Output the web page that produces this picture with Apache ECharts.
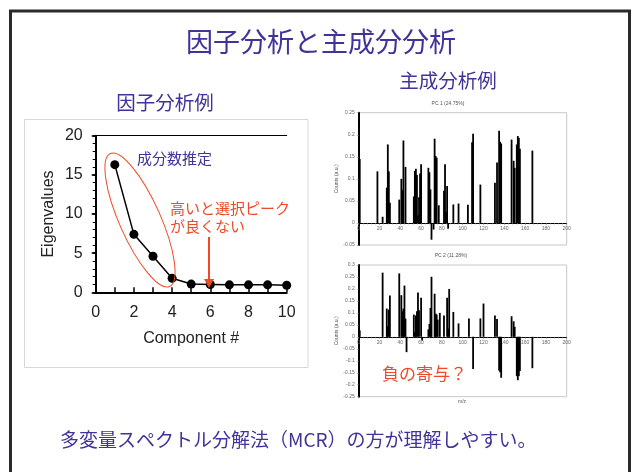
<!DOCTYPE html>
<html><head><meta charset="utf-8">
<script src="https://cdn.jsdelivr.net/npm/echarts@6/dist/echarts.min.js"></script>
<style>html,body{margin:0;padding:0;background:#fff}#c{width:634px;height:472px}</style>
</head><body><div id="c"></div>
<script>
// ---- data ----
const components = [1,2,3,4,5,6,7,8,9,10];
const eigenvalues = [16.3,7.4,4.6,1.8,1.05,1.0,0.95,0.95,0.95,0.9];
const componentTicks = [0,2,4,6,8,10];
const eigenTicks = [0,5,10,15,20];

const pc1Mz  = [1,18,23,27,28,29,30,39,41,42,43,45,53,54,55,56,57,58,59,60,67,68,69,70,72,73,74,75,77,82,83,84,85,86,91,96,105,109,110,117,131,133,135,136,137,147,149,150,152,153,154,155,167];
const pc1Val = [0.145,0.117,0.014,0.080,0.178,0.117,0.046,0.053,0.100,0.075,0.187,0.127,0.060,0.118,0.123,0.109,0.017,0.058,0.112,0.133,0.125,0.115,0.076,-0.038,-0.015,0.191,0.152,0.148,0.040,0.073,0.133,0.026,0.084,-0.013,0.042,0.044,0.041,0.183,0.202,0.087,0.091,0.137,0.209,0.184,0.180,0.189,0.141,0.125,0.178,0.197,0.193,0.168,0.164];

const pc2Mz  = [1,23,27,28,29,30,39,41,42,43,44,45,46,53,54,55,56,57,58,60,61,67,68,69,70,73,74,75,76,78,82,85,86,87,91,96,106,110,117,120,131,133,135,136,137,147,149,150,152,153,154,155,167];
const pc2Val = [0.027,0.268,0.118,0.045,0.114,0.173,0.265,0.174,0.107,0.118,0.214,0.076,-0.064,0.093,0.019,0.089,0.107,0.185,0.111,0.163,-0.015,0.031,0.054,0.121,0.251,0.180,0.097,0.093,0.072,0.100,0.089,0.163,0.035,0.200,0.104,0.056,0.077,-0.134,0.077,0.139,0.089,0.075,-0.141,-0.148,-0.171,0.086,0.065,0.042,-0.164,-0.181,-0.164,-0.143,-0.131];

const pc1Range = [-0.05, 0.25];
const pc2Range = [-0.25, 0.3];

const mainTitle = '因子分析と主成分分析';
const leftTitle = '因子分析例';
const rightTitle = '主成分析例';
const pc1Title = 'PC 1 (24.75%)';
const pc2Title = 'PC 2 (11.28%)';
const noteEstimate = '成分数推定';
const noteWarn1 = '高いと選択ピーク';
const noteWarn2 = 'が良くない';
const noteNeg = '負の寄与？';
const bottomText = '多変量スペクトル分解法（MCR）の方が理解しやすい。';

// ---- chart ----
const chart = echarts.init(document.getElementById('c'), null, {renderer:'canvas'});
const JP = '"Noto Sans CJK JP","Noto Sans",sans-serif';
const AR = '"Liberation Sans",Arial,sans-serif';
const purple = '#43329A';
const red = '#EF4A27';
const fmt = v => String(+v.toFixed(2));
const H = 472;

const g1 = {left:358.7, right:67.3, top:112.7, bottom:227};
const g2 = {left:358.7, right:67.3, top:265, bottom:75.3};
// distance (px) from grid bottom up to the zero line
const zeroOffset = (g, r) => {
  const h = H - g.top - g.bottom;
  return -(h * (0 - r[0]) / (r[1] - r[0]));
};

const smallX = (grid, g, r) => ({
  gridIndex: grid, type:'value', min:0, max:200, interval:20,
  position:'bottom', offset: zeroOffset(g, r),
  axisLine:{show:true, onZero:false, lineStyle:{color:'#000', width:1}},
  axisTick:{show:true, length:2, lineStyle:{color:'#777', width:0.6}},
  minorTick:{show:true, splitNumber:5, length:1.5, lineStyle:{color:'#777', width:0.6}},
  axisLabel:{fontSize:5, color:'#666', fontFamily:AR, margin:3, formatter:fmt},
  splitLine:{show:false}
});
const smallY = (grid, r) => ({
  gridIndex: grid, type:'value', min:r[0], max:r[1], interval:0.05,
  axisLine:{show:true, onZero:false, lineStyle:{color:'#000', width:2}},
  axisTick:{show:true, length:2, lineStyle:{color:'#999', width:0.6}},
  axisLabel:{fontSize:5, color:'#666', fontFamily:AR, margin:4, formatter:fmt},
  splitLine:{show:false},
  name:'Counts (a.u.)', nameLocation:'middle', nameGap:19, nameRotate:90,
  nameTextStyle:{fontSize:5, color:'#555', fontFamily:AR}
});

const option = {
  animation:false,
  backgroundColor:'#fff',
  grid:[
    {left:95.7, right:347.3, top:135.7, bottom:179.7, show:false},
    Object.assign({show:true, borderColor:'#c8c8c8', borderWidth:1, backgroundColor:'transparent'}, g1),
    Object.assign({show:true, borderColor:'#c8c8c8', borderWidth:1, backgroundColor:'transparent'}, g2)
  ],
  xAxis:[
    {gridIndex:0, type:'value', min:componentTicks[0], max:componentTicks[componentTicks.length-1], interval:2,
     axisLine:{onZero:false, lineStyle:{color:'#000', width:2}},
     axisTick:{show:true, inside:true, length:5, lineStyle:{color:'#000', width:1.5}},
     minorTick:{show:true, splitNumber:2, length:5, lineStyle:{color:'#000', width:1.5}},
     axisLabel:{fontSize:16, color:'#222', fontFamily:AR, margin:12},
     splitLine:{show:false},
     name:'Component #', nameLocation:'middle', nameGap:38,
     nameTextStyle:{fontSize:16, color:'#222', fontFamily:AR}},
    {gridIndex:0, type:'value', position:'top', min:0, max:10,
     axisLine:{show:true, onZero:false, lineStyle:{color:'#000', width:1}},
     axisTick:{show:false}, axisLabel:{show:false}, splitLine:{show:false}},
    smallX(1, g1, pc1Range),
    smallX(2, g2, pc2Range)
  ],
  yAxis:[
    {gridIndex:0, type:'value', min:eigenTicks[0], max:eigenTicks[eigenTicks.length-1], interval:5,
     axisLine:{show:true, onZero:false, lineStyle:{color:'#000', width:2}},
     axisTick:{show:true, length:4, lineStyle:{color:'#000', width:1.5}},
     minorTick:{show:true, splitNumber:5, length:3, lineStyle:{color:'#000', width:1}},
     axisLabel:{fontSize:16, color:'#222', fontFamily:AR, margin:13},
     splitLine:{show:false},
     name:'Eigenvalues', nameLocation:'middle', nameGap:39, nameRotate:90,
     nameTextStyle:{fontSize:16, color:'#222', fontFamily:AR}},
    {gridIndex:0, type:'value', min:0, max:20, interval:5,
     axisLine:{show:false}, axisLabel:{show:false}, splitLine:{show:false},
     axisTick:{show:true, inside:true, length:3, lineStyle:{color:'#000', width:1.5}},
     minorTick:{show:true, splitNumber:5, length:2, lineStyle:{color:'#000', width:1}}},
    smallY(1, pc1Range),
    smallY(2, pc2Range)
  ],
  series:[
    {type:'line', xAxisIndex:0, yAxisIndex:0,
     data: components.map((c,i)=>[c, eigenvalues[i]]),
     symbol:'circle', symbolSize:9, itemStyle:{color:'#000'},
     lineStyle:{color:'#000', width:1.5}, z:5},
    {type:'bar', xAxisIndex:2, yAxisIndex:2, barWidth:1.8,
     data: pc1Mz.map((m,i)=>[m, pc1Val[i]]), itemStyle:{color:'#000'}},
    {type:'bar', xAxisIndex:3, yAxisIndex:3, barWidth:1.8,
     data: pc2Mz.map((m,i)=>[m, pc2Val[i]]), itemStyle:{color:'#000'}}
  ],
  graphic:[
    {type:'rect', z:-10, shape:{x:10.5, y:11, width:619, height:475}, style:{fill:'none', stroke:'#2a2a2a', lineWidth:3}},
    {type:'rect', z:-10, shape:{x:24.5, y:119.5, width:283.5, height:248}, style:{fill:'none', stroke:'#d8d8d8', lineWidth:1}},
    {type:'text', x:321, y:42, style:{text:mainTitle, fill:purple, font:'27px '+JP, textAlign:'center', textVerticalAlign:'middle'}},
    {type:'text', x:448, y:81, style:{text:rightTitle, fill:purple, font:'19.5px '+JP, textAlign:'center', textVerticalAlign:'middle'}},
    {type:'text', x:165, y:103, style:{text:leftTitle, fill:purple, font:'19.5px '+JP, textAlign:'center', textVerticalAlign:'middle'}},
    {type:'ellipse', x:140, y:220, rotation:24*Math.PI/180, shape:{cx:0, cy:0, rx:20.5, ry:72.8}, style:{fill:'none', stroke:red, lineWidth:1}, z:10},
    {type:'text', x:137, y:158, style:{text:noteEstimate, fill:purple, font:'15px '+JP, textAlign:'left', textVerticalAlign:'middle'}, z:10},
    {type:'text', x:170, y:208, style:{text:noteWarn1, fill:red, font:'15px '+JP, textAlign:'left', textVerticalAlign:'middle'}, z:10},
    {type:'text', x:170, y:226, style:{text:noteWarn2, fill:red, font:'15px '+JP, textAlign:'left', textVerticalAlign:'middle'}, z:10},
    {type:'line', shape:{x1:209, y1:237, x2:209, y2:281}, style:{stroke:red, lineWidth:2}, z:10},
    {type:'polygon', shape:{points:[[204,279],[214,279],[209,288]]}, style:{fill:red}, z:10},
    {type:'text', x:448, y:104, style:{text:pc1Title, fill:'#555', font:'5px '+AR, textAlign:'center', textVerticalAlign:'middle'}},
    {type:'text', x:451, y:255.5, style:{text:pc2Title, fill:'#555', font:'5px '+AR, textAlign:'center', textVerticalAlign:'middle'}},
    {type:'text', x:462, y:401.5, style:{text:'m/z', fill:'#555', font:'5px '+AR, textAlign:'center', textVerticalAlign:'middle'}},
    {type:'text', x:382, y:374, style:{text:noteNeg, fill:red, font:'17px '+JP, textAlign:'left', textVerticalAlign:'middle'}, z:10},
    {type:'text', x:60, y:440, style:{text:bottomText, fill:purple, font:'19px '+JP, textAlign:'left', textVerticalAlign:'middle'}}
  ]
};
chart.setOption(option);
</script></body></html>
